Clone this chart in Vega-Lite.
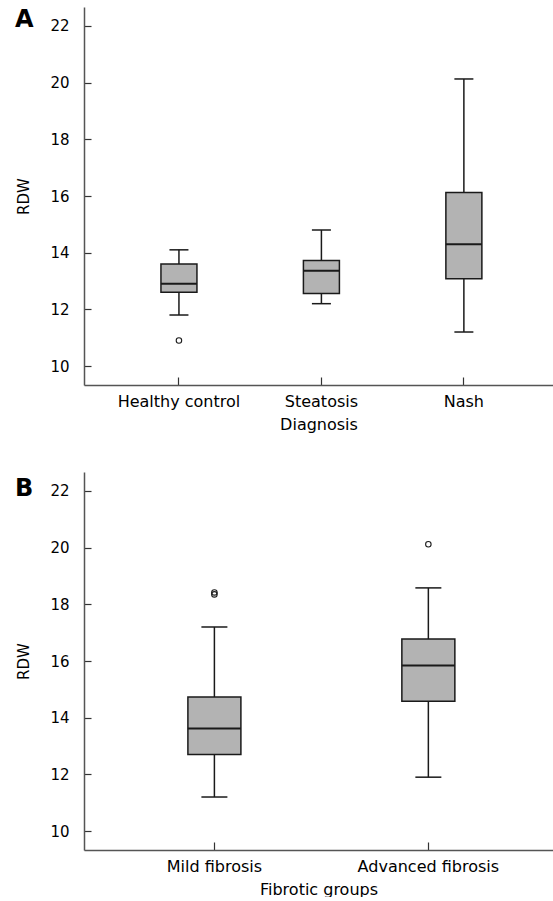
{
  "$schema": "https://vega.github.io/schema/vega-lite/v6.json",
  "padding": {"left": 15, "top": 7, "right": 0, "bottom": 0},
  "background": "white",
  "spacing": 40,
  "datasets": {
    "diag": [
      {"group": "Healthy control", "low": 11.8, "q1": 12.6, "median": 12.9, "q3": 13.6, "high": 14.1},
      {"group": "Steatosis", "low": 12.2, "q1": 12.56, "median": 13.36, "q3": 13.72, "high": 14.8},
      {"group": "Nash", "low": 11.2, "q1": 13.08, "median": 14.3, "q3": 16.12, "high": 20.13}
    ],
    "diagOut": [
      {"group": "Healthy control", "value": 10.9}
    ],
    "fib": [
      {"group": "Mild fibrosis", "low": 11.2, "q1": 12.7, "median": 13.62, "q3": 14.73, "high": 17.2},
      {"group": "Advanced fibrosis", "low": 11.9, "q1": 14.58, "median": 15.84, "q3": 16.78, "high": 18.58}
    ],
    "fibOut": [
      {"group": "Mild fibrosis", "value": 18.35},
      {"group": "Mild fibrosis", "value": 18.42},
      {"group": "Advanced fibrosis", "value": 20.12}
    ]
  },
  "config": {
    "view": {"stroke": null},
    "font": "DejaVu Sans",
    "axis": {
      "grid": false,
      "domainColor": "#555555",
      "domainWidth": 1.5,
      "tickColor": "#333333",
      "tickWidth": 1.2,
      "labelColor": "#000000",
      "titleColor": "#000000",
      "titleFontWeight": "normal"
    },
    "axisX": {
      "labelAngle": 0,
      "labelFontSize": 16,
      "titleFontSize": 16,
      "tickSize": -8,
      "labelPadding": 16,
      "titlePadding": 7
    },
    "axisY": {
      "labelFontSize": 15,
      "titleFontSize": 15,
      "tickSize": -7,
      "labelPadding": 22,
      "titlePadding": 18
    },
    "title": {"fontSize": 24, "fontWeight": "bold", "font": "DejaVu Sans", "color": "#000000", "anchor": "start", "frame": "group"}
  },
  "vconcat": [
    {
      "width": 469,
      "height": 378,
      "title": {"text": "A", "dx": -69, "dy": 29},
      "encoding": {
        "x": {
          "field": "group", "type": "nominal",
          "sort": ["Healthy control", "Steatosis", "Nash"],
          "scale": {"type": "band", "paddingInner": 0, "paddingOuter": 0.146, "align": 0.57},
          "axis": {"title": "Diagnosis"}
        }
      },
      "layer": [
        {
          "data": {"name": "diag"},
          "mark": {"type": "rule", "color": "#1a1a1a", "strokeWidth": 1.5},
          "encoding": {
            "y": {"field": "low", "type": "quantitative", "scale": {"domain": [9.33, 22.67], "nice": false, "zero": false}, "axis": {"title": "RDW", "values": [10, 12, 14, 16, 18, 20, 22]}},
            "y2": {"field": "high"}
          }
        },
        {
          "data": {"name": "diag"},
          "mark": {"type": "bar", "size": 36, "fill": "#b3b3b3", "stroke": "#1a1a1a", "strokeWidth": 1.5},
          "encoding": {"y": {"field": "q1", "type": "quantitative"}, "y2": {"field": "q3"}}
        },
        {
          "data": {"name": "diag"},
          "mark": {"type": "tick", "size": 36, "thickness": 2, "color": "#1a1a1a", "opacity": 1},
          "encoding": {"y": {"field": "median", "type": "quantitative"}}
        },
        {
          "data": {"name": "diag"},
          "mark": {"type": "tick", "size": 19, "thickness": 1.5, "color": "#1a1a1a", "opacity": 1},
          "encoding": {"y": {"field": "low", "type": "quantitative"}}
        },
        {
          "data": {"name": "diag"},
          "mark": {"type": "tick", "size": 19, "thickness": 1.5, "color": "#1a1a1a", "opacity": 1},
          "encoding": {"y": {"field": "high", "type": "quantitative"}}
        },
        {
          "data": {"name": "diagOut"},
          "mark": {"type": "point", "shape": "circle", "filled": false, "size": 30, "strokeWidth": 1.1, "color": "#1a1a1a", "opacity": 1},
          "encoding": {"y": {"field": "value", "type": "quantitative"}}
        }
      ]
    },
    {
      "width": 469,
      "height": 378,
      "title": {"text": "B", "dx": -69, "dy": 33},
      "encoding": {
        "x": {
          "field": "group", "type": "nominal",
          "sort": ["Mild fibrosis", "Advanced fibrosis"],
          "scale": {"type": "band", "paddingInner": 0, "paddingOuter": 0.096, "align": 0.57},
          "axis": {"title": "Fibrotic groups"}
        }
      },
      "layer": [
        {
          "data": {"name": "fib"},
          "mark": {"type": "rule", "color": "#1a1a1a", "strokeWidth": 1.5},
          "encoding": {
            "y": {"field": "low", "type": "quantitative", "scale": {"domain": [9.33, 22.67], "nice": false, "zero": false}, "axis": {"title": "RDW", "values": [10, 12, 14, 16, 18, 20, 22]}},
            "y2": {"field": "high"}
          }
        },
        {
          "data": {"name": "fib"},
          "mark": {"type": "bar", "size": 53, "fill": "#b3b3b3", "stroke": "#1a1a1a", "strokeWidth": 1.5},
          "encoding": {"y": {"field": "q1", "type": "quantitative"}, "y2": {"field": "q3"}}
        },
        {
          "data": {"name": "fib"},
          "mark": {"type": "tick", "size": 53, "thickness": 2, "color": "#1a1a1a", "opacity": 1},
          "encoding": {"y": {"field": "median", "type": "quantitative"}}
        },
        {
          "data": {"name": "fib"},
          "mark": {"type": "tick", "size": 26, "thickness": 1.5, "color": "#1a1a1a", "opacity": 1},
          "encoding": {"y": {"field": "low", "type": "quantitative"}}
        },
        {
          "data": {"name": "fib"},
          "mark": {"type": "tick", "size": 26, "thickness": 1.5, "color": "#1a1a1a", "opacity": 1},
          "encoding": {"y": {"field": "high", "type": "quantitative"}}
        },
        {
          "data": {"name": "fibOut"},
          "mark": {"type": "point", "shape": "circle", "filled": false, "size": 30, "strokeWidth": 1.1, "color": "#1a1a1a", "opacity": 1},
          "encoding": {"y": {"field": "value", "type": "quantitative"}}
        }
      ]
    }
  ]
}
